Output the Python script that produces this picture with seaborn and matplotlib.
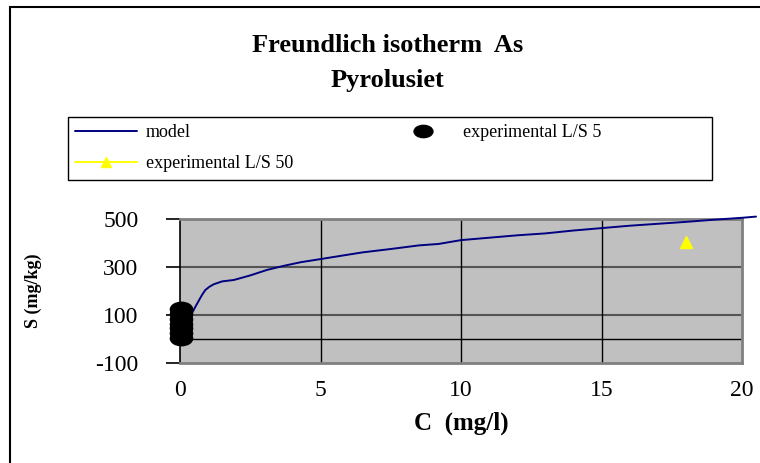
import matplotlib
matplotlib.use("Agg")
import matplotlib.pyplot as plt
import seaborn as sns
import pandas as pd
from matplotlib.patches import Rectangle
from matplotlib.path import Path
from matplotlib.transforms import Affine2D

# ==========================
# DATA
# ==========================

model_c = [0.2, 0.36, 0.55, 0.78, 0.9, 1.05, 1.2, 1.5, 1.92, 2.5, 3.1, 3.7, 4.3,
           5.0, 5.8, 6.5, 7.5, 8.5, 9.2, 10.0, 11.0, 12.0, 13.0, 14.0, 15.0,
           16.0, 17.0, 18.0, 19.0, 20.0, 20.5]
model_s = [75, 93, 135, 183, 204, 218, 228, 240, 246, 265, 288, 305, 320,
           333, 348, 361, 375, 390, 396, 412, 422, 432, 440, 452, 462,
           472, 480, 488, 497, 505, 510]

ls5_c = [0.05, 0.05, 0.05, 0.05, 0.05, 0.05, 0.05]
ls5_s = [125, 104, 84, 64, 44, 24, 5]

ls50_c = [18.0]
ls50_s = [404]

x_ticks = [0, 5, 10, 15, 20]
y_ticks = [-100, 100, 300, 500]

# ==========================
# FIGURE
# ==========================

sns.set_style("white")
plt.rcParams["font.family"] = ["Liberation Serif", "DejaVu Serif"]
plt.rcParams["text.color"] = "black"
plt.rcParams["axes.labelcolor"] = "black"
plt.rcParams["xtick.color"] = "black"
plt.rcParams["ytick.color"] = "black"
plt.rcParams["axes.unicode_minus"] = False

# flattened circle, like the old spreadsheet marker
ellipse = Path.unit_circle().transformed(Affine2D().scale(1.0, 0.65))

fig = plt.figure(figsize=(7.6, 4.63), dpi=100)
ax = fig.add_axes([180 / 760, 1 - 363 / 463, 562 / 760, 144 / 463])
ax.set_facecolor("#c0c0c0")

# outer chart frame
fig.patches.append(Rectangle((10 / 760, -0.1), 1.2, 1 - 7 / 463 + 0.1,
                             transform=fig.transFigure, fill=False,
                             edgecolor="black", linewidth=1.5))
# legend frame
fig.patches.append(Rectangle((68 / 760, 1 - 180 / 463), 644 / 760, 63 / 463,
                             transform=fig.transFigure, fill=False,
                             edgecolor="black", linewidth=1.0))

model_df = pd.DataFrame({"C": model_c, "S": model_s})
sns.lineplot(data=model_df, x="C", y="S", ax=ax, color="#000080",
             linewidth=1.4, label="model", clip_on=False, zorder=4)

ax.plot(ls50_c, ls50_s, color="yellow", marker="^", markersize=9,
        linewidth=1.4, label="experimental L/S 50", zorder=5)

ax.plot(ls5_c, ls5_s, linestyle="none", color="black", marker=ellipse,
        markersize=16, label="experimental L/S 5", clip_on=False, zorder=6)

ax.set_xlim(0, 20)
ax.set_ylim(-100, 500)
ax.set_xticks(x_ticks)
ax.set_yticks(y_ticks)

# gridlines
for v in [100, 300]:
    ax.axhline(v, color="#555555", linewidth=1.5, zorder=1)
ax.axhline(0, color="black", linewidth=1.0, zorder=1)
for v in [5, 10, 15]:
    ax.axvline(v, color="black", linewidth=1.0, zorder=1)

for side in ["top", "right", "bottom"]:
    ax.spines[side].set_color("#808080")
    ax.spines[side].set_linewidth(2)
ax.spines["left"].set_color("black")
ax.spines["left"].set_linewidth(1.2)

ax.tick_params(axis="y", direction="out", length=10, width=1.2,
               labelsize=17, left=True, pad=20)
ax.tick_params(axis="x", length=0, labelsize=17, pad=12)

ax.set_xlabel("C  (mg/l)", fontsize=18, fontweight="bold", labelpad=8)
ax.set_ylabel("S (mg/kg)", fontsize=13, fontweight="bold")
ax.yaxis.set_label_coords(-0.245, 0.5)

fig.text(0.51, 1 - 45 / 463, "Freundlich isotherm  As", ha="center",
         va="center", fontsize=19, fontweight="bold")
fig.text(0.51, 1 - 80 / 463, "Pyrolusiet", ha="center", va="center",
         fontsize=19, fontweight="bold")

handles, labels = ax.get_legend_handles_labels()
leg = ax.legend(handles, labels, ncol=2, loc="upper left",
                bbox_to_anchor=(70 / 760, 1 - 119 / 463),
                bbox_transform=fig.transFigure,
                fontsize=13, frameon=False, handlelength=3.4,
                borderaxespad=0, borderpad=0.3, labelspacing=0.75,
                columnspacing=5.5, handletextpad=0.5, markerscale=0.85)

plt.savefig("out.png", dpi=100)
plt.close()
